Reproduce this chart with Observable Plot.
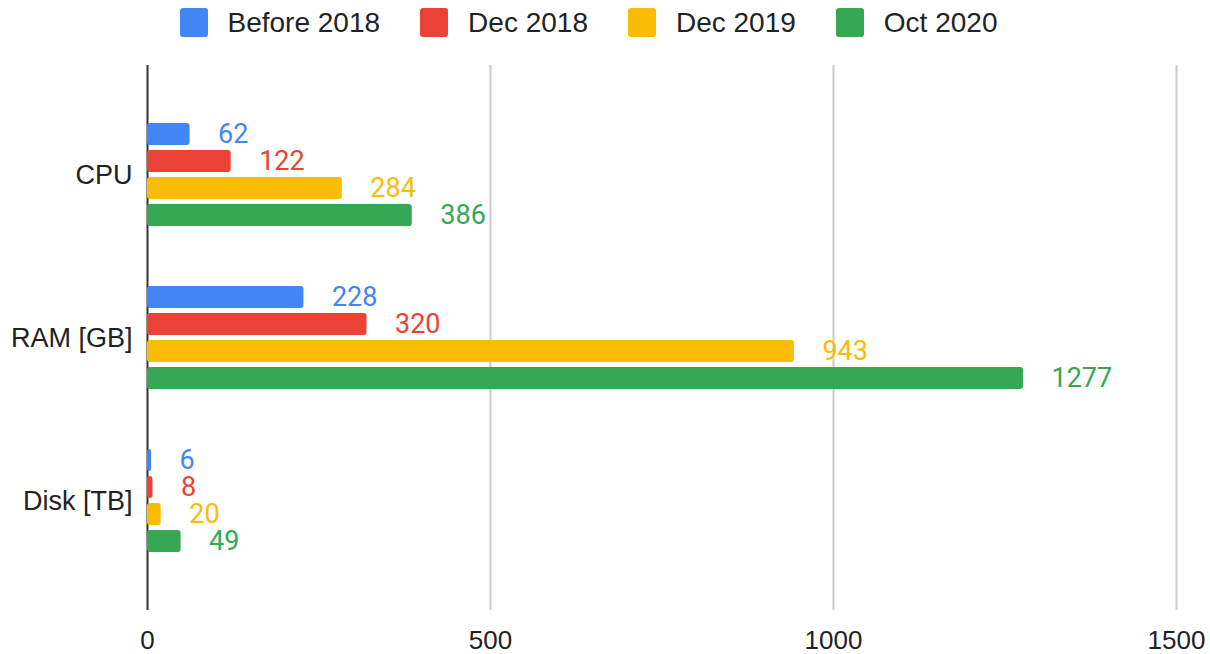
<!DOCTYPE html>
<html><head><meta charset="utf-8">
<script src="https://cdn.jsdelivr.net/npm/d3@7"></script>
<script src="https://cdn.jsdelivr.net/npm/@observablehq/plot@0.6"></script>
<style>
body{margin:0;background:#fff;}
#legend{height:45px;margin-bottom:5px;display:flex;align-items:center;justify-content:center;padding-right:33px;font-family:"Liberation Sans",Arial,sans-serif;font-size:28px;color:#222;}
.item{display:flex;align-items:center;margin-right:40px;}
.item:last-child{margin-right:0;}
.sw{width:28px;height:29px;border-radius:3px;margin-right:20px;}
#chart{position:relative;width:1210px;height:604px;}
#chart svg{position:absolute;left:0;top:0;}
</style></head><body>
<div id="legend"></div>
<div id="chart"></div>
<script>
const categories = ["CPU", "RAM [GB]", "Disk [TB]"];
const series = ["Before 2018", "Dec 2018", "Dec 2019", "Oct 2020"];
const colors = ["#4285F4", "#EA4335", "#FBBC04", "#34A853"];
const before2018 = [62, 228, 6];
const dec2018 = [122, 320, 8];
const dec2019 = [284, 943, 20];
const oct2020 = [386, 1277, 49];
const xTicks = [0, 500, 1000, 1500];

const valuesBySeries = [before2018, dec2018, dec2019, oct2020];
const data = categories.flatMap((c, i) => series.map((s, j) => ({category: c, series: s, value: valuesBySeries[j][i]})));

// legend
const legend = document.getElementById("legend");
series.forEach((s, j) => {
  const it = document.createElement("div"); it.className = "item";
  const sw = document.createElement("div"); sw.className = "sw"; sw.style.background = colors[j];
  const tx = document.createElement("span"); tx.textContent = s;
  it.appendChild(sw); it.appendChild(tx); legend.appendChild(it);
});

const W = 1210, H = 604, mT = 15, mB = 44, mL = 147, mR = 34;
const font = '"Liberation Sans", Arial, sans-serif';

const gridPlot = Plot.plot({
  width: W, height: H, marginTop: mT, marginBottom: mB, marginLeft: mL, marginRight: mR,
  style: {fontFamily: font, fontSize: "26px", color: "#222", background: "white"},
  x: {domain: [0, 1500], ticks: xTicks, tickFormat: d => String(d), tickSize: 0, tickPadding: 20, label: null},
  marks: [
    Plot.ruleX(xTicks.filter(d => d > 0), {stroke: "#cccccc", strokeWidth: 2}),
    Plot.ruleX([0], {stroke: "#333", strokeWidth: 2})
  ]
});

const barPlot = Plot.plot({
  width: W, height: H, marginTop: mT, marginBottom: mB, marginLeft: mL, marginRight: mR,
  style: {fontFamily: font, fontSize: "27px", color: "#222", background: "transparent"},
  x: {domain: [0, 1500], axis: null},
  y: {domain: series, axis: null, paddingInner: 0.2, paddingOuter: 1.08},
  fy: {domain: categories, paddingInner: 0, paddingOuter: 0.17, axis: "left", tickSize: 0, tickPadding: 15, label: null},
  color: {domain: series, range: colors},
  facet: {data, y: "category"},
  marks: [
    Plot.barX(data, {x: "value", y: "series", fill: "series", rx: 3}),
    Plot.text(data, {x: "value", y: "series", text: d => String(d.value), fill: "series", dx: 28, textAnchor: "start", fontSize: 27, fontFamily: "Roboto"})
  ]
});

const chart = document.getElementById("chart");
chart.appendChild(gridPlot);
chart.appendChild(barPlot);
</script>
</body></html>
